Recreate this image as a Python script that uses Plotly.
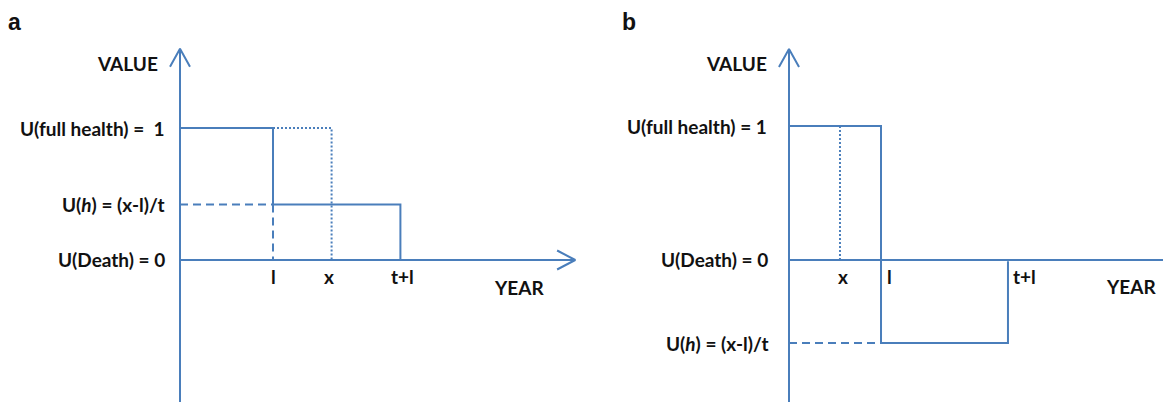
import plotly.graph_objects as go

# ---------------- data (conceptual units) ----------------
# Panel a
a_l = 1.0          # l on YEAR axis
a_x = 1.63         # x on YEAR axis
a_tl = 2.37        # t+l on YEAR axis
a_full = 1.0       # U(full health)
a_h = 0.42         # U(h) = (x-l)/t  (positive)
a_xend = 4.25      # end of YEAR axis arrow
a_ytop = 1.6       # top of VALUE axis arrow
a_ybot = -1.3      # bottom of VALUE axis

# Panel b
b_l = 1.0
b_x = 0.554
b_tl = 2.38
b_full = 1.0
b_h = -0.62        # U(h) = (x-l)/t  (negative)
b_xend = 4.27
b_ytop = 1.575
b_ybot = -1.3

tick_labels_a = ["l", "x", "t+l"]
tick_labels_b = ["x", "l", "t+l"]
y_labels = ["U(full health) =  1", "U(<i>h</i>) = (x-l)/t", "U(Death) = 0"]
y_labels_b = ["U(full health) = 1", "U(<i>h</i>) = (x-l)/t", "U(Death) = 0"]

BLUE = "#4A7EBB"
W = 2
FONT = "Lato"

fig = go.Figure()


def seg(xs, ys, ax, dash="solid", width=W):
    fig.add_trace(go.Scatter(
        x=xs, y=ys, mode="lines", xaxis="x" if ax == 1 else "x2",
        yaxis="y" if ax == 1 else "y2",
        line=dict(color=BLUE, width=width, dash=dash),
        hoverinfo="skip", showlegend=False))


# ---------- panel a ----------
seg([0, 0], [a_ybot, a_ytop], 1)
seg([-0.1075, 0, 0.1075], [a_ytop - 0.136, a_ytop, a_ytop - 0.136], 1)
seg([0, a_xend], [0, 0], 1)
seg([a_xend - 0.195, a_xend, a_xend - 0.195], [0.072, 0, -0.072], 1)
seg([0, a_l, a_l, a_tl, a_tl], [a_full, a_full, a_h, a_h, 0], 1)
seg([0, a_l], [a_h, a_h], 1, dash="8px,5px")
seg([a_l, a_l], [a_h, 0], 1, dash="8px,5px")
seg([a_l, a_x, a_x], [a_full, a_full, 0], 1, dash="2px,2px")

# ---------- panel b ----------
seg([0, 0], [b_ybot, b_ytop], 2)
seg([-0.109, 0, 0.109], [b_ytop - 0.134, b_ytop, b_ytop - 0.134], 2)
seg([0, b_xend], [0, 0], 2)
seg([b_xend - 0.185, b_xend, b_xend - 0.185], [0.075, 0, -0.075], 2)
seg([0, b_l, b_l, b_tl, b_tl], [b_full, b_full, b_h, b_h, -0.01], 2)
seg([0, b_l], [b_h, b_h], 2, dash="8px,5px")
seg([b_x, b_x], [b_full, 0], 2, dash="2px,2px")

ann = []
fnt = dict(family=FONT, size=19, color="#111111")


def lab(text, x, y, ax, xanchor="center", xshift=0, yshift=0, font=fnt, ref=None):
    d = dict(text="<b>" + text + "</b>", x=x, y=y, showarrow=False,
             xanchor=xanchor, yanchor="middle", xshift=xshift, yshift=yshift,
             font=font)
    if ref == "paper":
        d.update(xref="paper", yref="paper")
    else:
        d.update(xref="x" if ax == 1 else "x2", yref="y" if ax == 1 else "y2")
    ann.append(d)


# panel a labels
lab("VALUE", 0, 1.49, 1, xanchor="right", xshift=-20)
lab(y_labels[0], 0, a_full, 1, xanchor="right", xshift=-14)
lab(y_labels[1], 0, a_h, 1, xanchor="right", xshift=-13)
lab(y_labels[2], 0, 0, 1, xanchor="right", xshift=-13, yshift=1)
lab(tick_labels_a[0], a_l, 0, 1, yshift=-16)
lab(tick_labels_a[1], a_x, 0, 1, xshift=-3, yshift=-16)
lab(tick_labels_a[2], a_tl, 0, 1, xshift=2, yshift=-16)
lab("YEAR", 3.65, 0, 1, yshift=-27)

# panel b labels
lab("VALUE", 0, 1.47, 2, xanchor="right", xshift=-20)
lab(y_labels_b[0], 0, b_full, 2, xanchor="right", xshift=-20)
lab(y_labels_b[1], 0, b_h, 2, xanchor="right", xshift=-18)
lab(y_labels_b[2], 0, 0, 2, xanchor="right", xshift=-19, yshift=1)
lab(tick_labels_b[0], b_x, 0, 2, xshift=3, yshift=-16)
lab(tick_labels_b[1], b_l, 0, 2, xanchor="left", xshift=4, yshift=-16)
lab(tick_labels_b[2], b_tl, 0, 2, xanchor="left", xshift=3, yshift=-16)
lab("YEAR", 3.72, 0, 2, yshift=-26)

# panel letters
pfont = dict(family="Liberation Sans", size=23, color="#111111")
lab("a", 0.0, 0.965, 1, xanchor="left", xshift=-2, font=pfont, ref="paper")
lab("b", 0.525, 0.965, 2, xanchor="left", xshift=-3, font=pfont, ref="paper")

ax_common = dict(visible=False, showgrid=False, zeroline=False, fixedrange=True)
fig.update_layout(
    width=1171, height=402,
    margin=dict(l=0, r=0, t=0, b=0),
    paper_bgcolor="white", plot_bgcolor="white",
    xaxis=dict(domain=[0, 0.5], range=[-1.8495, 4.4462], **ax_common),
    yaxis=dict(domain=[0, 1], range=[-1.1364, 1.9091], **ax_common),
    xaxis2=dict(domain=[0.5, 1], range=[-2.125, 4.239], anchor="y2", **ax_common),
    yaxis2=dict(domain=[0, 1], range=[-1.1194, 1.8806], anchor="x2", **ax_common),
    annotations=ann,
    showlegend=False,
)

fig.write_html("out.html")
